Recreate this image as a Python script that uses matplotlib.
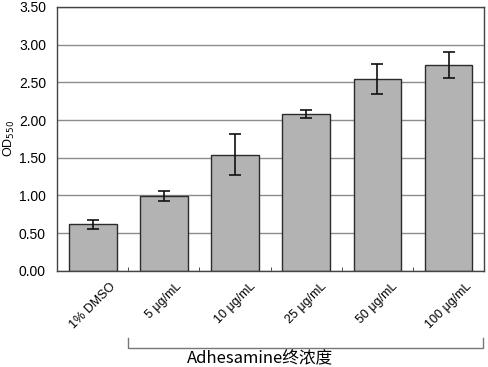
import numpy as np
import matplotlib.pyplot as plt

plt.rcParams['font.family'] = ['Liberation Sans', 'Noto Sans CJK SC', 'DejaVu Sans']

categories = ["1% DMSO", "5 μg/mL", "10 μg/mL", "25 μg/mL", "50 μg/mL", "100 μg/mL"]
od550 = [0.62, 0.99, 1.54, 2.08, 2.54, 2.73]
od550_err = [0.06, 0.07, 0.27, 0.05, 0.20, 0.17]
yticks = [0.0, 0.5, 1.0, 1.5, 2.0, 2.5, 3.0, 3.5]

fig = plt.figure(figsize=(4.88, 3.67), dpi=100)
ax = fig.add_axes([0.117, 0.262, 0.875, 0.719])

x = np.arange(len(categories))
ax.bar(x, od550, width=0.67, color="#b3b3b3", edgecolor="#2b2b2b", linewidth=1.0, zorder=2)
ax.errorbar(x, od550, yerr=od550_err, fmt="none", ecolor="#111111",
            elinewidth=1.2, capsize=4, capthick=1.2, zorder=3)

ax.set_xlim(-0.5, len(categories) - 0.5)
ax.set_ylim(0, 3.5)
ax.set_yticks(yticks)
ax.set_yticklabels([f"{v:.2f}" for v in yticks], fontsize=10)
ax.yaxis.grid(True, color="#8c8c8c", linewidth=1.0, zorder=0)
ax.set_axisbelow(True)
ax.tick_params(axis="y", length=0, pad=8)

ax.set_xticks(x)
ax.set_xticklabels(categories, rotation=45, ha="center", fontsize=9)
ax.tick_params(axis="x", which="major", length=0, pad=7)
ax.set_xticks(x[:-1] + 0.5, minor=True)
ax.tick_params(axis="x", which="minor", direction="in", length=3, color="#333333")

for s in ax.spines.values():
    s.set_color("#444444")
    s.set_linewidth(1.0)

ax.set_ylabel("OD$_{550}$", fontsize=9)
ax.yaxis.set_label_coords(-0.093, 0.5)

# bracket under the Adhesamine concentrations
x0, x1 = 128 / 488, 483 / 488
yb, yt = 1 - 348 / 367, 1 - 338 / 367
fig.add_artist(plt.Line2D([x0, x0, x1, x1], [yt, yb, yb, yt], color="#777777",
                          linewidth=1.0, transform=fig.transFigure))
fig.text(260 / 488, 1 - 359 / 367, "Adhesamine终浓度", ha="center", va="center",
         fontsize=12, family=["Noto Sans CJK SC", "DejaVu Sans"])

fig.savefig("out.png", dpi=100)
